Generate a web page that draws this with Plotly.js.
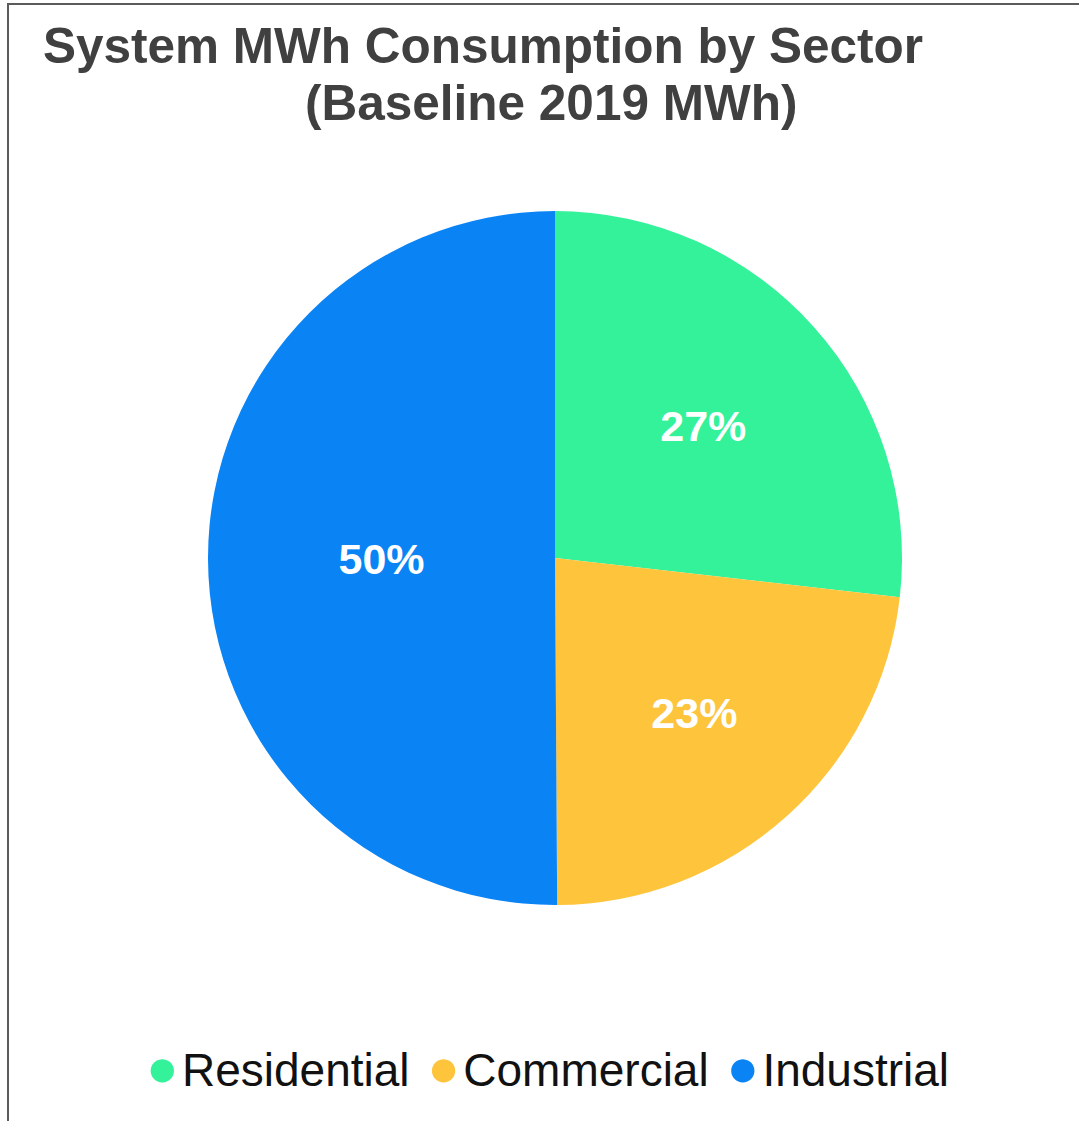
<!DOCTYPE html>
<html>
<head>
<meta charset="utf-8">
<script src="https://cdn.plot.ly/plotly-3.0.1.min.js"></script>
<style>
  html, body { margin: 0; padding: 0; background: #ffffff; }
  #wrap { position: relative; width: 1079px; height: 1121px; overflow: hidden; }
  #chart { position: absolute; left: 0; top: 0; width: 1079px; height: 1121px; }
  #frame { position: absolute; left: 7px; top: 3px; width: 1200px; height: 1200px;
           border-left: 2px solid #5b5b5b; border-top: 2px solid #5b5b5b; pointer-events: none; }
</style>
</head>
<body>
<div id="wrap">
  <div id="chart"></div>
  <div id="frame"></div>
</div>
<script>
// Data
const categories = ["Residential", "Commercial", "Industrial"];
const shares = [26.8, 23.1, 50.1];
const colors = ["#34F299", "#FEC43C", "#0A84F5"];
const titleLine1 = "System MWh Consumption by Sector";
const titleLine2 = "(Baseline 2019 MWh)";

const W = 1079, H = 1121;
const cx = 555, cy = 558, r = 347;

const trace = {
  type: "pie",
  labels: categories,
  values: shares,
  marker: { colors: colors, line: { width: 0 } },
  sort: false,
  direction: "clockwise",
  rotation: 0,
  texttemplate: "%{percent:.0%}",
  textposition: "inside",
  insidetextorientation: "horizontal",
  textfont: { family: "Liberation Sans, Arial, sans-serif", size: 43, color: "#ffffff", weight: "bold" },
  hoverinfo: "label+percent",
  showlegend: false,
  domain: {
    x: [(cx - r) / W, (cx + r) / W],
    y: [(H - cy - r) / H, (H - cy + r) / H]
  }
};

const legendText = categories.map((c, i) =>
  `<span style="color:${colors[i]};font-size:54px">●</span><span style="font-size:12px"> </span>${c}`
).join('<span style="font-size:32px">  </span>');

const layout = {
  width: W, height: H,
  margin: { l: 0, r: 0, t: 0, b: 0 },
  paper_bgcolor: "#ffffff",
  showlegend: false,
  font: { family: "Liberation Sans, Arial, sans-serif" },
  annotations: [
    { text: "<b>" + titleLine1 + "</b>", xref: "paper", yref: "paper",
      x: 483 / W, y: 1 - 46 / H, xanchor: "center", yanchor: "middle", showarrow: false,
      font: { size: 49.5, color: "#404040" } },
    { text: "<b>" + titleLine2 + "</b>", xref: "paper", yref: "paper",
      x: 551 / W, y: 1 - 103 / H, xanchor: "center", yanchor: "middle", showarrow: false,
      font: { size: 49.5, color: "#404040" } },
    { text: legendText, xref: "paper", yref: "paper",
      x: 547 / W, y: 1 - 1067 / H, xanchor: "center", yanchor: "middle", showarrow: false,
      font: { size: 46, color: "#111111" } }
  ]
};

Plotly.newPlot("chart", [trace], layout, { displayModeBar: false, staticPlot: true });
</script>
</body>
</html>
